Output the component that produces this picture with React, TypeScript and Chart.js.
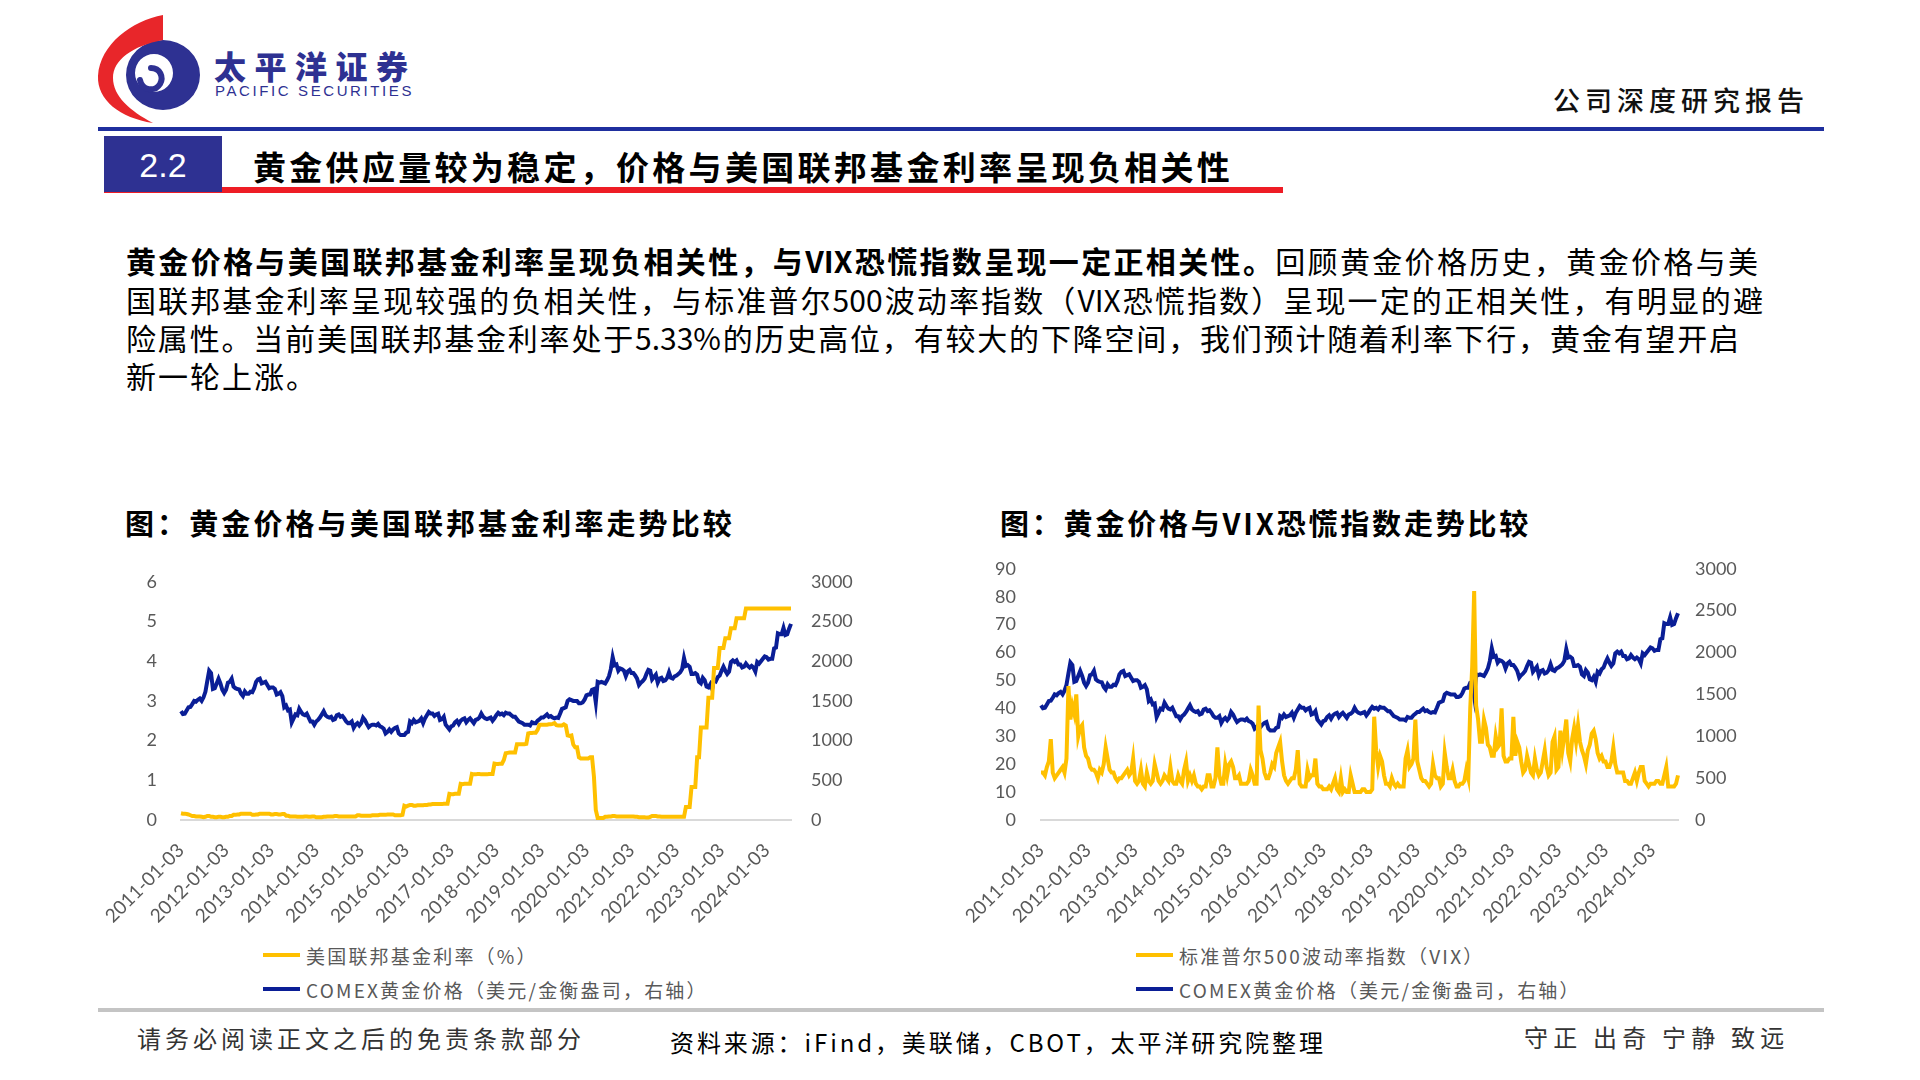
import React, { useEffect, useRef } from 'react';
import { Chart, registerables } from 'chart.js';

Chart.register(...registerables);

// ---------- categories (semi-monthly observation dates) ----------
const startYear = 2011;
const endYear = 2024;
const lastMonthOfEndYear = 7;
const halfMonthDays = ['03', '17'];

function buildDates(): string[] {
  const out: string[] = [];
  for (let y = startYear; y <= endYear; y++) {
    const months = y === endYear ? lastMonthOfEndYear : 12;
    for (let m = 1; m <= months; m++) {
      const mm = m < 10 ? '0' + m : String(m);
      for (const d of halfMonthDays) out.push(`${y}-${mm}-${d}`);
    }
  }
  return out;
}
const dateLabels = buildDates();

const xTickLabels = [
  '2011-01-03', '2012-01-03', '2013-01-03', '2014-01-03', '2015-01-03', '2016-01-03', '2017-01-03',
  '2018-01-03', '2019-01-03', '2020-01-03', '2021-01-03', '2022-01-03', '2023-01-03', '2024-01-03',
];

// ---------- series ----------
// 美国联邦基金利率（%）
const fedRate = [
  0.17, 0.16, 0.16, 0.15, 0.14, 0.12, 0.10, 0.10, 0.09, 0.09, 0.09, 0.08, 0.07, 0.08, 0.10, 0.10, 0.08, 0.08, 0.07, 0.07, 0.08, 0.08, 0.07, 0.07,
  0.08, 0.08, 0.10, 0.10, 0.13, 0.13, 0.14, 0.14, 0.16, 0.16, 0.16, 0.16, 0.16, 0.16, 0.13, 0.13, 0.14, 0.14, 0.16, 0.16, 0.16, 0.16, 0.16, 0.16,
  0.14, 0.14, 0.15, 0.15, 0.14, 0.14, 0.15, 0.15, 0.11, 0.11, 0.09, 0.09, 0.09, 0.09, 0.08, 0.08, 0.08, 0.08, 0.09, 0.09, 0.08, 0.08, 0.09, 0.09,
  0.07, 0.07, 0.07, 0.07, 0.08, 0.08, 0.09, 0.09, 0.09, 0.09, 0.10, 0.10, 0.09, 0.09, 0.09, 0.09, 0.09, 0.09, 0.09, 0.09, 0.09, 0.09, 0.12, 0.12,
  0.11, 0.11, 0.11, 0.11, 0.11, 0.11, 0.12, 0.12, 0.12, 0.12, 0.13, 0.13, 0.13, 0.13, 0.14, 0.14, 0.14, 0.14, 0.12, 0.12, 0.12, 0.12, 0.13, 0.36,
  0.34, 0.36, 0.38, 0.38, 0.36, 0.36, 0.37, 0.37, 0.37, 0.37, 0.38, 0.38, 0.39, 0.39, 0.40, 0.40, 0.40, 0.40, 0.40, 0.40, 0.41, 0.41, 0.41, 0.66,
  0.65, 0.65, 0.66, 0.66, 0.66, 0.91, 0.90, 0.91, 0.91, 0.91, 0.91, 1.16, 1.15, 1.15, 1.16, 1.16, 1.15, 1.15, 1.15, 1.15, 1.16, 1.16, 1.16, 1.42,
  1.41, 1.41, 1.42, 1.42, 1.51, 1.68, 1.69, 1.70, 1.70, 1.70, 1.70, 1.91, 1.91, 1.91, 1.91, 1.91, 1.92, 2.18, 2.19, 2.19, 2.20, 2.20, 2.27, 2.40,
  2.40, 2.40, 2.40, 2.40, 2.41, 2.41, 2.42, 2.44, 2.39, 2.38, 2.38, 2.38, 2.41, 2.38, 2.13, 2.12, 2.13, 1.90, 1.83, 1.83, 1.58, 1.55, 1.55, 1.55,
  1.55, 1.55, 1.58, 1.58, 1.10, 0.25, 0.05, 0.05, 0.05, 0.05, 0.08, 0.08, 0.09, 0.09, 0.10, 0.10, 0.09, 0.09, 0.09, 0.09, 0.09, 0.09, 0.09, 0.09,
  0.09, 0.09, 0.08, 0.08, 0.07, 0.07, 0.07, 0.07, 0.06, 0.06, 0.08, 0.10, 0.10, 0.10, 0.09, 0.09, 0.08, 0.08, 0.08, 0.08, 0.08, 0.08, 0.08, 0.08,
  0.08, 0.08, 0.08, 0.08, 0.08, 0.33, 0.33, 0.33, 0.83, 0.83, 0.83, 1.58, 1.58, 2.33, 2.33, 2.33, 2.33, 3.08, 3.08, 3.08, 3.83, 3.83, 3.83, 4.33,
  4.33, 4.33, 4.58, 4.58, 4.58, 4.83, 4.83, 4.83, 5.08, 5.08, 5.08, 5.08, 5.08, 5.33, 5.33, 5.33, 5.33, 5.33, 5.33, 5.33, 5.33, 5.33, 5.33, 5.33,
  5.33, 5.33, 5.33, 5.33, 5.33, 5.33, 5.33, 5.33, 5.33, 5.33, 5.33, 5.33, 5.33, 5.33,
];

// COMEX黄金价格（美元/金衡盎司）
const goldPrice = [
  1370, 1335, 1340, 1380, 1420, 1425, 1460, 1500, 1490, 1515, 1530, 1500, 1545, 1615, 1750, 1880, 1850, 1650, 1660, 1720, 1780, 1720, 1640, 1600,
  1640, 1730, 1740, 1780, 1680, 1660, 1650, 1645, 1590, 1560, 1620, 1590, 1590, 1615, 1610, 1660, 1740, 1770, 1780, 1720, 1730, 1740, 1700, 1660,
  1670, 1670, 1650, 1580, 1590, 1610, 1560, 1420, 1440, 1380, 1390, 1230, 1280, 1330, 1320, 1400, 1360, 1330, 1320, 1340, 1290, 1240, 1240, 1200,
  1240, 1260, 1290, 1330, 1370, 1320, 1300, 1290, 1300, 1260, 1270, 1320, 1330, 1300, 1310, 1280, 1240, 1220, 1220, 1240, 1160, 1200, 1220, 1190,
  1220, 1290, 1260, 1210, 1170, 1190, 1200, 1200, 1190, 1210, 1180, 1170, 1150, 1090, 1110, 1140, 1110, 1140, 1160, 1170, 1090, 1070, 1070, 1070,
  1100, 1110, 1240, 1220, 1260, 1230, 1240, 1250, 1280, 1220, 1280, 1320, 1360, 1340, 1340, 1310, 1330, 1340, 1260, 1270, 1300, 1200, 1170, 1140,
  1180, 1190, 1230, 1250, 1210, 1250, 1270, 1280, 1230, 1260, 1280, 1250, 1220, 1260, 1270, 1290, 1340, 1300, 1280, 1270, 1280, 1290, 1250, 1280,
  1320, 1350, 1330, 1340, 1320, 1350, 1340, 1340, 1320, 1300, 1300, 1270, 1240, 1230, 1220, 1200, 1200, 1200, 1190, 1230, 1220, 1220, 1250, 1270,
  1290, 1290, 1310, 1330, 1300, 1310, 1290, 1280, 1290, 1285, 1340, 1400, 1410, 1420, 1500, 1520, 1510, 1500, 1500, 1500, 1470, 1470, 1480, 1515,
  1570, 1580, 1580, 1640, 1650, 1480, 1740, 1730, 1740, 1730, 1720, 1760, 1810, 1900, 2050, 1950, 1960, 1880, 1910, 1900, 1880, 1810, 1870, 1890,
  1850, 1850, 1820, 1780, 1700, 1730, 1750, 1780, 1840, 1890, 1880, 1770, 1800, 1830, 1730, 1780, 1790, 1750, 1760, 1790, 1860, 1790, 1780, 1810,
  1820, 1840, 1860, 1900, 2040, 1940, 1950, 1930, 1840, 1840, 1850, 1830, 1740, 1720, 1790, 1760, 1680, 1670, 1710, 1650, 1770, 1750, 1800, 1820,
  1880, 1930, 1880, 1840, 1870, 1990, 2010, 1990, 2010, 1960, 1960, 1920, 1930, 1970, 1940, 1920, 1940, 1920, 1870, 1990, 1970, 2000, 2030, 2060,
  2050, 2020, 2030, 2030, 2160, 2170, 2350, 2340, 2340, 2420, 2330, 2340, 2410, 2470,
];

// 标准普尔500波动率指数（VIX）
const vixIndex = [
  17, 17, 16, 19, 21, 29, 17, 15, 16, 17, 18, 19, 17, 22, 48, 36, 41, 38, 45, 30, 33, 34, 26, 23,
  22, 19, 18, 18, 17, 15, 18, 17, 20, 26, 22, 18, 17, 17, 15, 14, 15, 15, 16, 17, 18, 16, 17, 22,
  14, 13, 14, 18, 13, 12, 17, 14, 13, 14, 20, 17, 14, 13, 14, 16, 15, 14, 19, 14, 13, 13, 16, 14,
  13, 18, 21, 14, 16, 14, 16, 13, 12, 12, 11, 12, 12, 16, 16, 12, 12, 15, 26, 16, 13, 13, 20, 16,
  20, 21, 19, 15, 15, 16, 13, 13, 13, 13, 14, 18, 16, 13, 13, 41, 25, 22, 17, 15, 15, 17, 20, 19,
  24, 26, 28, 21, 16, 14, 13, 14, 15, 15, 18, 25, 13, 12, 12, 12, 18, 15, 16, 16, 22, 13, 12, 12,
  11, 11, 11, 12, 11, 13, 15, 11, 10, 15, 10, 11, 10, 10, 16, 13, 10, 10, 10, 10, 11, 11, 10, 10,
  10, 11, 37, 25, 19, 23, 21, 16, 13, 13, 12, 15, 13, 12, 13, 12, 12, 12, 22, 25, 19, 20, 22, 36,
  21, 18, 15, 14, 14, 13, 12, 13, 20, 16, 15, 15, 12, 13, 24, 19, 15, 15, 18, 14, 12, 12, 13, 13,
  14, 18, 15, 40, 55, 82, 41, 36, 28, 28, 36, 33, 27, 26, 23, 23, 30, 26, 27, 40, 23, 21, 21, 22,
  22, 37, 23, 28, 26, 21, 17, 18, 23, 20, 17, 16, 22, 18, 16, 17, 21, 25, 19, 16, 17, 28, 30, 18,
  19, 32, 25, 30, 36, 24, 21, 29, 33, 28, 34, 28, 25, 23, 20, 25, 27, 31, 32, 29, 24, 22, 23, 21,
  21, 19, 19, 21, 26, 20, 17, 17, 17, 17, 14, 14, 13, 13, 15, 17, 14, 17, 19, 19, 14, 13, 12, 13,
  13, 13, 14, 14, 13, 13, 16, 19, 12, 12, 12, 12, 13, 16,
];

const fedLegend = '美国联邦基金利率（%）';
const vixLegend = '标准普尔500波动率指数（VIX）';
const goldLegend = 'COMEX黄金价格（美元/金衡盎司，右轴）';

// ---------- styles ----------
const GOLD = '#FFC000';
const NAVY = '#0A1E96';
const TICK = '#595959';
const BRAND = '#2E3192';
const CJK = '"Noto Sans CJK SC", "Noto Sans", sans-serif';

type ChartProps = {
  left: number; top: number; width: number; height: number;
  series: number[]; seriesMax: number; seriesStep: number;
  axisLeftW: number; axisRightW: number; xAxisH: number;
  leftPad: number; rightPad: number;
};

function DualAxisChart(p: ChartProps) {
  const ref = useRef<HTMLCanvasElement>(null);
  useEffect(() => {
    const tickFont = { family: 'Lato', size: 18 };
    const chart = new Chart(ref.current as HTMLCanvasElement, {
      type: 'line',
      data: {
        labels: dateLabels,
        datasets: [
          { data: p.series, borderColor: GOLD, backgroundColor: GOLD, borderWidth: 4, pointRadius: 0, tension: 0, yAxisID: 'y' },
          { data: goldPrice, borderColor: NAVY, backgroundColor: NAVY, borderWidth: 4, pointRadius: 0, tension: 0, yAxisID: 'y1' },
        ],
      },
      options: {
        animation: false,
        responsive: false,
        maintainAspectRatio: false,
        layout: { padding: 0 },
        plugins: { legend: { display: false }, tooltip: { enabled: false } },
        scales: {
          x: {
            type: 'category',
            offset: false,
            grid: { display: false, drawTicks: false },
            border: { display: true, color: '#D9D9D9', width: 2 },
            ticks: {
              autoSkip: false, maxRotation: 45, minRotation: 45, padding: 19,
              color: TICK, font: { family: 'Lato', size: 19 },
              callback: (_v: any, i: number) => (xTickLabels.includes(dateLabels[i]) ? dateLabels[i] : ''),
            },
            afterFit: (s: any) => { s.height = p.xAxisH; },
          },
          y: {
            position: 'left', min: 0, max: p.seriesMax,
            grid: { display: false, drawTicks: false },
            border: { display: false },
            ticks: { stepSize: p.seriesStep, padding: p.leftPad, color: TICK, font: tickFont, callback: (v: any) => String(v) },
            afterFit: (s: any) => { s.width = p.axisLeftW; },
          },
          y1: {
            position: 'right', min: 0, max: 3000,
            grid: { display: false, drawTicks: false },
            border: { display: false },
            ticks: { stepSize: 500, padding: p.rightPad, color: TICK, font: tickFont, callback: (v: any) => String(v) },
            afterFit: (s: any) => { s.width = p.axisRightW; },
          },
        },
      } as any,
    });
    return () => chart.destroy();
  }, []);
  return (
    <canvas
      ref={ref}
      width={p.width}
      height={p.height}
      style={{ position: 'absolute', left: p.left, top: p.top, width: p.width, height: p.height }}
    />
  );
}

function Txt(props: { x: number; yc: number; h?: number; size: number; children: any; style?: any }) {
  const h = props.h ?? Math.round(props.size * 1.4);
  return (
    <div
      style={{
        position: 'absolute', left: props.x, top: props.yc - h / 2, height: h, lineHeight: h + 'px',
        fontSize: props.size, fontFamily: CJK, whiteSpace: 'nowrap', ...props.style,
      }}
    >
      {props.children}
    </div>
  );
}

function JustLine(props: { x: number; yc: number; w: number; children: any }) {
  return (
    <div
      style={{
        position: 'absolute', left: props.x, top: props.yc - 20, width: props.w, height: 40, lineHeight: '40px',
        fontSize: 30, fontFamily: CJK, color: '#000', textAlign: 'justify', textAlignLast: 'justify' as any,
      }}
    >
      {props.children}
    </div>
  );
}

function LegendRow(props: { x: number; yc: number; color: string; text: string }) {
  return (
    <>
      <div style={{ position: 'absolute', left: props.x, top: props.yc - 2, width: 37, height: 4, background: props.color }} />
      <Txt x={props.x + 43} yc={props.yc} size={19} style={{ color: TICK, letterSpacing: 2.2 }}>{props.text}</Txt>
    </>
  );
}

function Logo() {
  return (
    <svg style={{ position: 'absolute', left: 90, top: 10 }} width={130} height={120} viewBox="0 0 130 120">
      <path
        fillRule="evenodd"
        fill={BRAND}
        d="M110,65 A37,35 0 1,1 36,65 A37,35 0 1,1 110,65 Z M83,63 A19,19 0 1,0 45,63 A19,19 0 1,0 83,63 Z"
      />
      <path d="M50,70 C52,81 65,82 70,74 C74,67 70,58 61,58" stroke={BRAND} strokeWidth={6} fill="none" strokeLinecap="round" />
      <path fill="#E8262A" d="M73,5 L73,30 C42,36 23,50 23,68 C23,86 40,101 63,113 C30,108 7,90 8,66 C10,34 42,11 73,5 Z" />
    </svg>
  );
}

export default function App() {
  return (
    <div style={{ position: 'absolute', left: 0, top: 0, width: 1920, height: 1080, background: '#fff', overflow: 'hidden' }}>
      {/* header */}
      <Logo />
      <Txt x={214} yc={65} size={32} style={{ color: BRAND, fontWeight: 900, letterSpacing: 8.5 }}>太平洋证券</Txt>
      <Txt x={215} yc={90} size={15} style={{ color: BRAND, letterSpacing: 2.6, fontFamily: '"Liberation Sans", Arial, sans-serif' }}>PACIFIC SECURITIES</Txt>
      <Txt x={1553} yc={100} size={27} style={{ color: '#111', fontWeight: 500, letterSpacing: 5 }}>公司深度研究报告</Txt>
      <div style={{ position: 'absolute', left: 98, top: 127, width: 1726, height: 4, background: '#1F2F9E' }} />

      {/* section title */}
      <div style={{ position: 'absolute', left: 104, top: 187, width: 1179, height: 6, background: '#EE1C25' }} />
      <div style={{ position: 'absolute', left: 104, top: 136, width: 118, height: 56, background: BRAND }} />
      <Txt x={104} yc={165} size={34} style={{ width: 118, textAlign: 'center', color: '#fff', fontFamily: '"Liberation Sans", Arial, sans-serif' }}>2.2</Txt>
      <Txt x={253} yc={166} size={33} style={{ color: '#000', fontWeight: 700, letterSpacing: 3.3 }}>黄金供应量较为稳定，价格与美国联邦基金利率呈现负相关性</Txt>

      {/* body text */}
      <JustLine x={126} yc={260} w={1632}>
        <b>黄金价格与美国联邦基金利率呈现负相关性，与VIX恐慌指数呈现一定正相关性。</b>回顾黄金价格历史，黄金价格与美
      </JustLine>
      <JustLine x={126} yc={299} w={1637}>
        国联邦基金利率呈现较强的负相关性，与标准普尔500波动率指数（VIX恐慌指数）呈现一定的正相关性，有明显的避
      </JustLine>
      <JustLine x={126} yc={337} w={1613}>
        险属性。当前美国联邦基金利率处于5.33%的历史高位，有较大的下降空间，我们预计随着利率下行，黄金有望开启
      </JustLine>
      <Txt x={126} yc={375} size={30} h={40} style={{ color: '#000', letterSpacing: 2 }}>新一轮上涨。</Txt>

      {/* chart titles */}
      <Txt x={125} yc={522} size={29} style={{ color: '#000', fontWeight: 700, letterSpacing: 3.1 }}>图：黄金价格与美国联邦基金利率走势比较</Txt>
      <Txt x={1000} yc={522} size={29} style={{ color: '#000', fontWeight: 700, letterSpacing: 2.8 }}>图：黄金价格与VIX恐慌指数走势比较</Txt>

      {/* charts */}
      <DualAxisChart
        left={81} top={547} width={809} height={388}
        series={fedRate} seriesMax={6} seriesStep={1}
        axisLeftW={100} axisRightW={99} xAxisH={115} leftPad={24} rightPad={20}
      />
      <DualAxisChart
        left={941} top={533} width={829} height={402}
        series={vixIndex} seriesMax={90} seriesStep={10}
        axisLeftW={100} axisRightW={92} xAxisH={115} leftPad={25} rightPad={17}
      />

      {/* legends */}
      <LegendRow x={263} yc={955} color={GOLD} text={fedLegend} />
      <LegendRow x={263} yc={989} color={NAVY} text={goldLegend} />
      <LegendRow x={1136} yc={955} color={GOLD} text={vixLegend} />
      <LegendRow x={1136} yc={989} color={NAVY} text={goldLegend} />

      {/* footer */}
      <div style={{ position: 'absolute', left: 98, top: 1008, width: 1726, height: 4, background: '#C4C4C4' }} />
      <Txt x={137} yc={1038} size={24} style={{ color: '#333', letterSpacing: 4 }}>请务必阅读正文之后的免责条款部分</Txt>
      <Txt x={670} yc={1042} size={24} style={{ color: '#000', letterSpacing: 2.9 }}>资料来源：iFind，美联储，CBOT，太平洋研究院整理</Txt>
      <Txt x={1524} yc={1037} size={24} style={{ color: '#333', letterSpacing: 5.2 }}>守正 出奇 宁静 致远</Txt>
    </div>
  );
}
